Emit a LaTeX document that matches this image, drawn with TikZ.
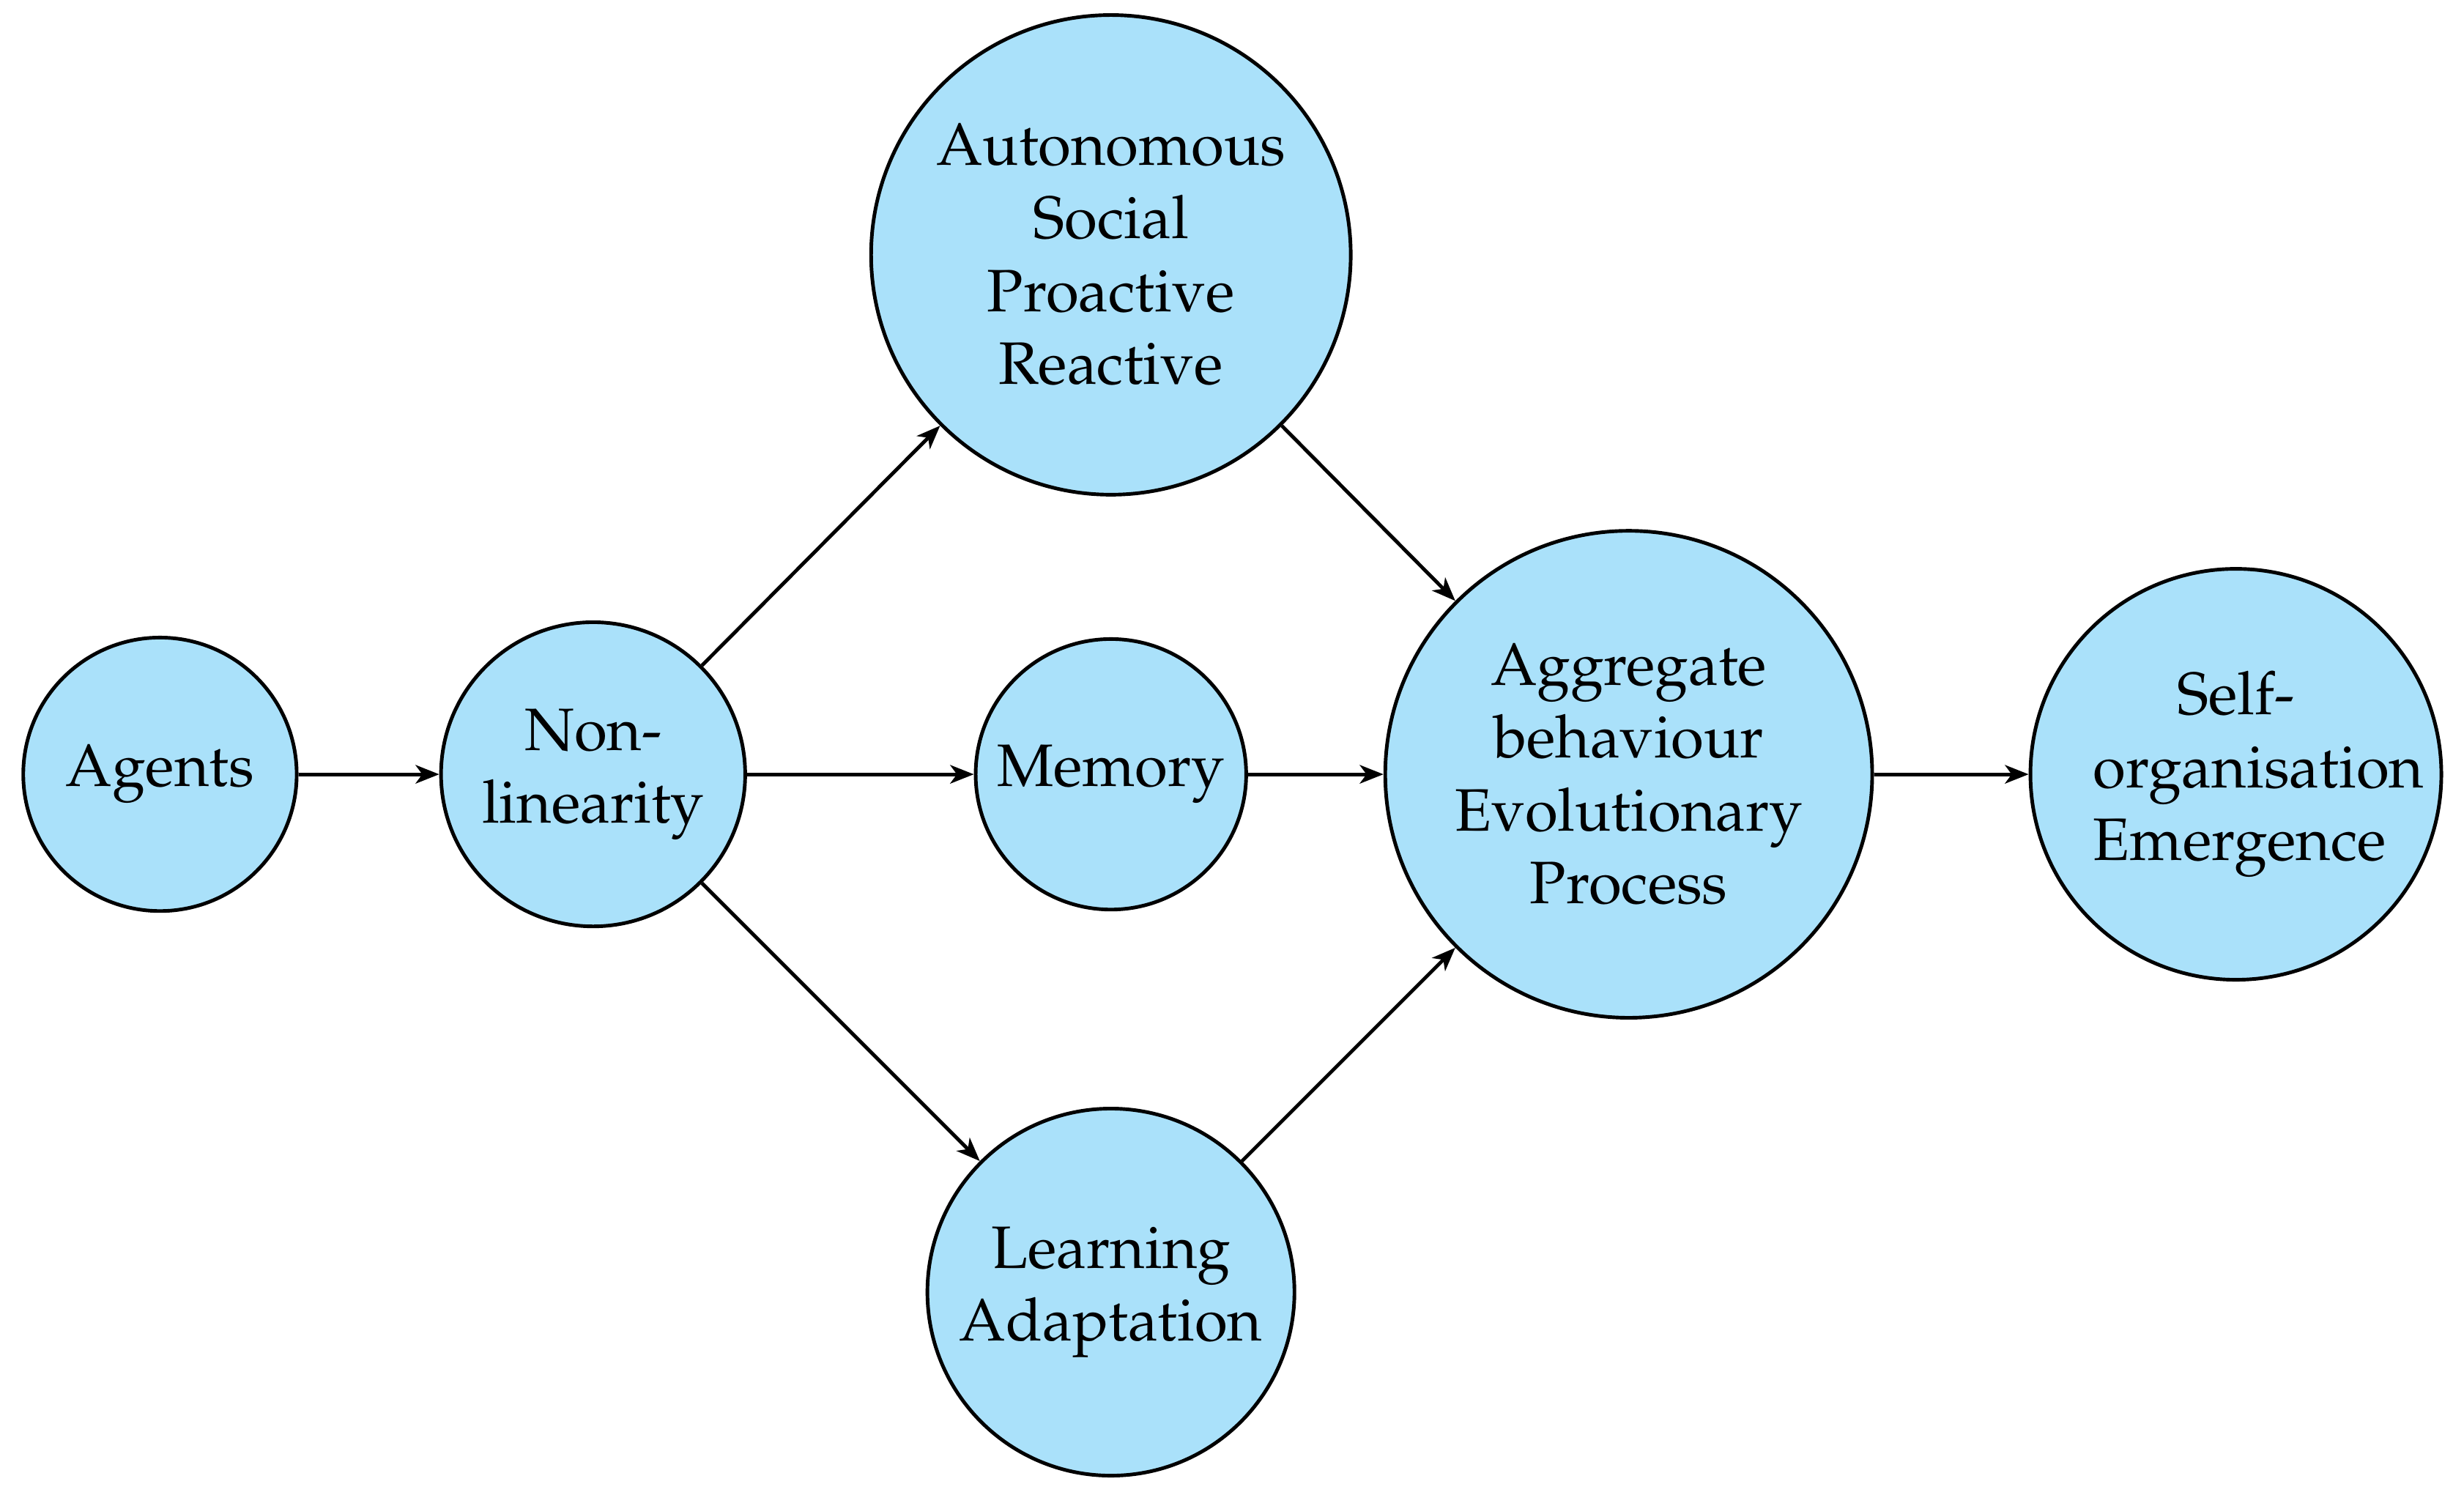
\documentclass[tikz,border=0pt]{standalone}
\usepackage[T1]{fontenc}
\usepackage{mathpazo}
\usetikzlibrary{arrows.meta}
\definecolor{nodeblue}{RGB}{170,225,250}
\begin{document}
\begin{tikzpicture}
	[ line width=0.7pt,
	  state/.style={draw,circle,fill=nodeblue,align=center,inner sep=0pt,font=\fontsize{11.65}{14.2}\selectfont},
	  flow/.style={-{Stealth[length=4.6pt,width=3.6pt,inset=1.3pt]}} ]
	
	\useasboundingbox (0,0) rectangle (16.85,10.22);
	
	\node[state,minimum size=1.87cm] (agents) at (1.094,4.925) {Agents};
	\node[state,minimum size=2.08cm] (nonlin) at (4.056,4.925) {Non-\\linearity};
	\node[state,minimum size=3.28cm] (traits) at (7.597,8.477) {Autonomous\\Social\\Proactive\\Reactive};
	\node[state,minimum size=1.85cm] (memory) at (7.597,4.925) {Memory};
	\node[state,minimum size=2.51cm] (learn) at (7.597,1.384) {Learning\\Adaptation};
	\node[state,minimum size=3.33cm] (aggr) at (11.138,4.925) {Aggregate\\behaviour\\Evolutionary\\Process};
	\node[state,minimum size=2.81cm,text width=1.95cm] (selforg) at (15.29,4.925) {Self-\\\mbox{organisation}\\Emergence};
	
	\draw[flow] (agents) -- (nonlin);
	\draw[flow] (nonlin.north east) -- (traits.south west);
	\draw[flow] (nonlin) -- (memory);
	\draw[flow] (nonlin.south east) -- (learn.north west);
	
	\draw[flow] (traits.south east) -- (aggr.north west);
	\draw[flow] (memory) -- (aggr);
	\draw[flow] (learn.north east) -- (aggr.south west);
	\draw[flow] (aggr) -- (selforg);
	
\end{tikzpicture}
\end{document}
